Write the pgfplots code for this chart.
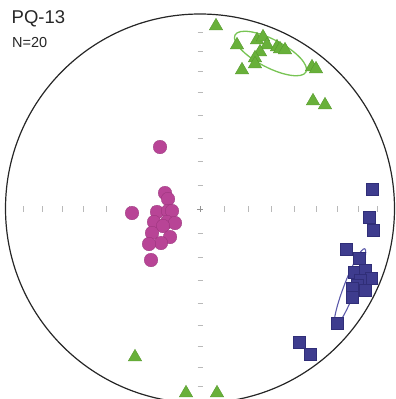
\documentclass[border=0pt]{standalone}
\usepackage{pgfplots}
\pgfplotsset{compat=1.18}
\usepackage{fontspec}
\setmainfont{Liberation Sans}

\definecolor{trigreen}{RGB}{104,176,58}
\definecolor{trigreenedge}{RGB}{84,150,44}
\definecolor{ellgreen}{RGB}{120,196,84}
\definecolor{dotmag}{RGB}{184,68,150}
\definecolor{dotmagedge}{RGB}{150,50,120}
\definecolor{sqblue}{RGB}{62,60,142}
\definecolor{sqblueedge}{RGB}{48,46,120}
\definecolor{ellblue}{RGB}{92,90,170}
\definecolor{netgrey}{RGB}{185,185,185}

\begin{document}
\begin{tikzpicture}
\begin{axis}[
  width=396pt, height=399pt, scale only axis,
  xmin=0, xmax=396, ymin=0, ymax=399, y dir=reverse,
  axis lines=none, clip=true,
]
% primitive circle of the equal-area net
\draw[black!85, line width=1.2pt] (axis cs:200,208.5) circle[radius=194.5];
% centre cross
\draw[netgrey!80!black, line width=0.5pt] (axis cs:197,209) -- (axis cs:203,209);
\draw[netgrey!80!black, line width=0.5pt] (axis cs:200,206) -- (axis cs:200,212);
% 10-degree ticks along the E-W and N-S diameters (equal-area radii)
\pgfplotsinvokeforeach{24.0,47.8,71.2,94.1,116.3,137.5,157.8,176.9}{
  \draw[netgrey, line width=0.6pt] (axis cs:{200-#1},206) -- (axis cs:{200-#1},212);
  \draw[netgrey, line width=0.6pt] (axis cs:{200+#1},206) -- (axis cs:{200+#1},212);
  \draw[netgrey, line width=0.6pt] (axis cs:197.5,{209-#1}) -- (axis cs:202.5,{209-#1});
  \draw[netgrey, line width=0.6pt] (axis cs:197.5,{209+#1}) -- (axis cs:202.5,{209+#1});
}

% confidence ellipses
\draw[ellgreen, line width=1.3pt, rotate around={-27.5:(axis cs:270.5,53.5)}]
  (axis cs:270.5,53.5) ellipse[x radius=40, y radius=14];
\draw[ellblue, line width=1.1pt, rotate around={69:(axis cs:350,287)}]
  (axis cs:350,287) ellipse[x radius=41, y radius=6];

% poles: green set
\addplot[only marks, mark=triangle*, mark size=7.8pt,
  mark options={fill=trigreen, draw=trigreenedge, line width=0.3pt}]
  coordinates {
  (216,26) (237,45) (257,40) (263,37) (267,45) (260,52) (255,58) (255,64)
  (277,47) (280,49) (285,50) (242,70) (312,67) (316,69) (313,101) (325,105)
  (135,357) (186,393) (217,393)
};

% poles: magenta set
\addplot[only marks, mark=*, mark size=6.8pt,
  mark options={fill=dotmag, draw=dotmagedge, line width=0.3pt}]
  coordinates {
  (160,147) (165,193) (168,199) (132,213) (157,212) (168,211) (172,211)
  (154,222) (167,222) (175,223) (163,226) (152,233) (170,237) (161,243)
  (149,244) (151,260)
};

% poles: blue set
\addplot[only marks, mark=square*, mark size=6pt,
  mark options={fill=sqblue, draw=sqblueedge, line width=0.3pt}]
  coordinates {
  (372,189) (369,217) (373,230) (346,249) (359,258) (354,272) (365,270)
  (371,278) (360,280) (357,285) (352,288) (365,290) (352,297) (337,323)
  (299,342) (310,354)
};

\node[anchor=north west, inner sep=0pt, font=\fontsize{18.5}{20}\selectfont, text=black!85]
  at (axis cs:11.5,10) {PQ-13};
\node[anchor=north west, inner sep=0pt, font=\fontsize{14.5}{16}\selectfont, text=black!85]
  at (axis cs:12,37) {N=20};
\end{axis}
% page is exactly the plot area; the clipped net circle runs past its lower edge
\pgfresetboundingbox
\useasboundingbox (current axis.south west) rectangle (current axis.north east);
\end{tikzpicture}
\end{document}
